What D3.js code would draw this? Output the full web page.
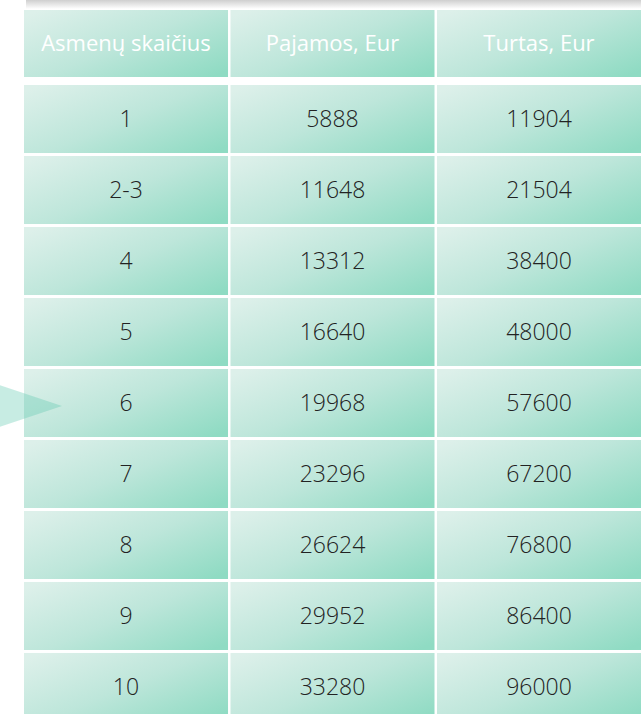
<!DOCTYPE html>
<html>
<head>
<meta charset="utf-8">
<script src="https://cdn.jsdelivr.net/npm/d3@7"></script>
<style>
    body { margin: 0; background: #fff; overflow: hidden; }
    .head-text { fill: #fff; font-family: "Open Sans", sans-serif; font-size: 22px; font-weight: 400; }
    .cell-text { fill: #222; font-family: "Open Sans", sans-serif; font-size: 23px; font-weight: 300; }
</style>
</head>
<body>
<script>
var headers = ['Asmenų skaičius', 'Pajamos, Eur', 'Turtas, Eur'];
var persons = ['1', '2-3', '4', '5', '6', '7', '8', '9', '10'];
var income = [5888, 11648, 13312, 16640, 19968, 23296, 26624, 29952, 33280];
var wealth = [11904, 21504, 38400, 48000, 57600, 67200, 76800, 86400, 96000];
var pointerRow = '6';

var width = 641,
    height = 714;

var rows = persons.map((p, idx) => [p, income[idx], wealth[idx]]);

var svg = d3.select('body').append('svg')
    .attr('width', width)
    .attr('height', height);

var defs = svg.append('defs');
var cellGrad = defs.append('linearGradient')
    .attr('id', 'cell-grad')
    .attr('x1', 0).attr('y1', 0.1)
    .attr('x2', 1).attr('y2', 0.9);
cellGrad.append('stop').attr('offset', 0).attr('stop-color', '#ddf0ea');
cellGrad.append('stop').attr('offset', 0.5).attr('stop-color', '#bde6da');
cellGrad.append('stop').attr('offset', 1).attr('stop-color', '#8fdbc3');

var shadowGrad = defs.append('linearGradient')
    .attr('id', 'shadow-grad')
    .attr('x1', 0).attr('y1', 0)
    .attr('x2', 0).attr('y2', 1);
shadowGrad.append('stop').attr('offset', 0).attr('stop-color', '#cfcfcf');
shadowGrad.append('stop').attr('offset', 1).attr('stop-color', '#ffffff');

var x = d3.scaleBand()
    .domain(d3.range(headers.length))
    .range([24, 641])
    .paddingInner(0.012);

var y = d3.scaleBand()
    .domain(persons)
    .range([85, 721])
    .paddingInner(0.042);

var headTop = 10,
    headHeight = 67;

// shadow of the bar above the table
svg.append('rect')
    .attr('x', x(0) + 2)
    .attr('y', 0)
    .attr('width', width - x(0))
    .attr('height', headTop - 1)
    .attr('fill', 'url(#shadow-grad)');

// header row
var head = svg.append('g').attr('class', 'head');
head.selectAll('rect')
    .data(headers)
    .join('rect')
    .attr('x', (d, idx) => x(idx))
    .attr('y', headTop)
    .attr('width', x.bandwidth())
    .attr('height', headHeight)
    .attr('fill', 'url(#cell-grad)');
head.selectAll('text')
    .data(headers)
    .join('text')
    .attr('class', 'head-text')
    .attr('x', (d, idx) => x(idx) + x.bandwidth() / 2)
    .attr('y', headTop + headHeight / 2)
    .attr('dy', '0.35em')
    .attr('text-anchor', 'middle')
    .text(d => d);

// body rows
var body = svg.append('g').attr('class', 'body');
var rowSel = body.selectAll('g.row')
    .data(rows)
    .join('g')
    .attr('class', 'row')
    .attr('transform', d => 'translate(0,' + y(d[0]) + ')');

rowSel.selectAll('rect')
    .data(d => d)
    .join('rect')
    .attr('x', (d, idx) => x(idx))
    .attr('y', 0)
    .attr('width', x.bandwidth())
    .attr('height', y.bandwidth())
    .attr('fill', 'url(#cell-grad)');

rowSel.selectAll('text')
    .data(d => d)
    .join('text')
    .attr('class', 'cell-text')
    .attr('x', (d, idx) => x(idx) + x.bandwidth() / 2)
    .attr('y', y.bandwidth() / 2)
    .attr('dy', '0.35em')
    .attr('text-anchor', 'middle')
    .text(d => d);

// pointer triangle on the left
var tipY = y(pointerRow) + y.bandwidth() / 2 + 3;
svg.append('polygon')
    .attr('points', [[-10, tipY - 24], [62, tipY], [-10, tipY + 24]].join(' '))
    .attr('fill', '#5fc9b0')
    .attr('opacity', 0.35);
</script>
</body>
</html>
